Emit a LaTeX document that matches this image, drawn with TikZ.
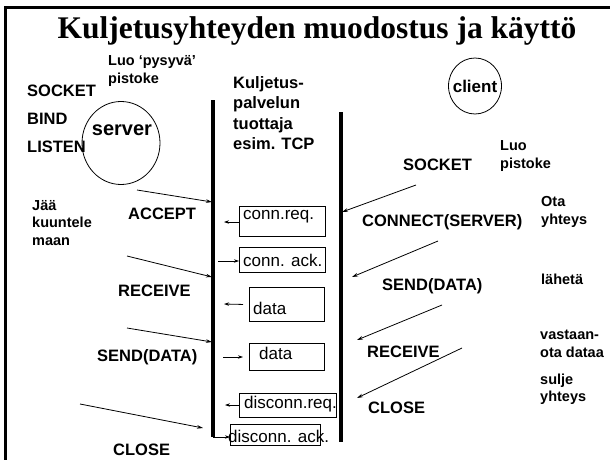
\documentclass[tikz,border=0pt]{standalone}
\usepackage{fontspec}
\setmainfont{Liberation Serif}
\newfontfamily\arialf{Liberation Sans}
\usetikzlibrary{arrows.meta,shapes.geometric}
\tikzset{
  lbl/.style={anchor=west,inner sep=0pt,font=\arialf\bfseries\fontsize{16.5}{20.5}\selectfont,align=left},
  note/.style={anchor=west,inner sep=0pt,font=\arialf\bfseries\fontsize{14.5}{17.5}\selectfont,align=left},
  boxtxt/.style={anchor=west,inner sep=0pt,font=\arialf\fontsize{17}{20}\selectfont},
  msgbox/.style={draw,line width=0.9pt,inner sep=0pt,anchor=north west},
  lifeline/.style={line width=3.4pt},
  arr/.style={line width=0.8pt,-{Stealth[length=6pt,width=3.6pt]}},
  sarr/.style={line width=0.8pt,-{Stealth[length=5pt,width=3.4pt]}},
}
\begin{document}
\begin{tikzpicture}[x=1pt,y=-1pt]
\useasboundingbox (0,0) rectangle (610,460);
% frame
\draw[line width=3pt] (5,460) -- (5,8) -- (612,8);
% title
\node[inner sep=0pt,font=\bfseries\fontsize{31.5}{35}\selectfont] (title) at (317,31) {Kuljetusyhteyden muodostus ja käyttö};
% left side texts
\node[note] (luo1) at (108,71) {Luo ‘pysyvä’\\pistoke};
\node[lbl] (sock1) at (27,91) {SOCKET};
\node[lbl] (bind) at (27,119) {BIND};
\node[lbl] (listen) at (27,147) {LISTEN};
\node[draw,ellipse,line width=0.8pt,minimum width=78pt,minimum height=83pt,inner sep=0pt] (server) at (121,143) {};
\node[inner sep=0pt,font=\arialf\bfseries\fontsize{20}{24}\selectfont] (servert) at (122,130) {server};
% middle text
\node[lbl,anchor=north west] (tcp) at (233,76) {Kuljetus-\\palvelun\\tuottaja\\esim. TCP};
% lifelines
\coordinate (l1t) at (213,100);
\coordinate (l1b) at (213,437);
\coordinate (l2t) at (341,112);
\coordinate (l2b) at (341,442);
\draw[lifeline] (l1t) -- (l1b);
\draw[lifeline] (l2t) -- (l2b);
% client
\node[draw,ellipse,line width=0.8pt,minimum width=53pt,minimum height=56pt,inner sep=0pt] (client) at (475,86) {};
\node[inner sep=0pt,font=\arialf\bfseries\fontsize{17}{20}\selectfont] (clientt) at (475,86) {client};
% right side labels
\node[lbl] (sock2) at (403,165) {SOCKET};
\node[note] (luo2) at (500,156) {Luo\\pistoke};
\node[lbl] (conn) at (362,222) {CONNECT(SERVER)};
\node[note] (ota) at (541,212) {Ota\\yhteys};
\node[lbl] (send2) at (382,286) {SEND(DATA)};
\node[note] (lah) at (541,279) {lähetä};
\node[lbl] (recv2) at (367,352) {RECEIVE};
\node[note] (vast) at (540,344) {vastaan-\\ota dataa};
\node[lbl] (close2) at (368,408) {CLOSE};
\node[note] (sulje) at (540,389) {sulje\\yhteys};
% left labels
\node[lbl] (accept) at (128,214) {ACCEPT};
\node[note] (jaa) at (32,223) {Jää\\kuuntele\\maan};
\node[lbl] (recv1) at (118,291) {RECEIVE};
\node[lbl] (send1) at (97,357) {SEND(DATA)};
\node[lbl] (close1) at (113,450) {CLOSE};
% right arrows
\coordinate (ra1) at (416,185); \coordinate (rb1) at (342,212);
\coordinate (ra2) at (438,241); \coordinate (rb2) at (352,277);
\coordinate (ra3) at (442,305); \coordinate (rb3) at (357,340);
\coordinate (ra4) at (462,348); \coordinate (rb4) at (357,398);
\draw[arr] (ra1) -- (rb1);
\draw[arr] (ra2) -- (rb2);
\draw[arr] (ra3) -- (rb3);
\draw[arr] (ra4) -- (rb4);
% left arrows
\coordinate (la1) at (137,190); \coordinate (lb1) at (212,202);
\coordinate (la2) at (127,256); \coordinate (lb2) at (212,277);
\coordinate (la3) at (127,328); \coordinate (lb3) at (212,342);
\coordinate (la4) at (80,404); \coordinate (lb4) at (203,428);
\draw[arr] (la1) -- (lb1);
\draw[arr] (la2) -- (lb2);
\draw[arr] (la3) -- (lb3);
\draw[arr] (la4) -- (lb4);
% message boxes
\node[msgbox,minimum width=86pt,minimum height=30pt] (b1) at (239,206) {};
\node[boxtxt] (b1t) at (243,217) {conn.req.};
\node[msgbox,minimum width=86pt,minimum height=25pt] (b2) at (239,247) {};
\node[boxtxt] (b2t) at (243,260) {conn. ack.};
\node[msgbox,minimum width=75pt,minimum height=34pt] (b3) at (249,287) {};
\node[boxtxt] (b3t) at (253,308) {data};
\node[msgbox,minimum width=75pt,minimum height=27pt] (b4) at (249,343) {};
\node[boxtxt] (b4t) at (259,353) {data};
\node[msgbox,minimum width=97pt,minimum height=24pt] (b5) at (239,393) {};
\node[boxtxt] (b5t) at (244,404) {disconn.req.};
\node[msgbox,minimum width=90pt,minimum height=21pt] (b6) at (230,424) {};
\node[boxtxt] (b6t) at (228,436) {disconn. ack.};
% small arrows
\coordinate (s1) at (224,222);
\coordinate (s2) at (218,261);
\coordinate (s3) at (224,304);
\coordinate (s4) at (223,357);
\coordinate (s5) at (225,405);
\draw[sarr] (b1.west |- s1) -- (s1);
\draw[sarr] (s2) -- (b2.west |- s2);
\draw[sarr] ([xshift=-6pt]b3.west) -- (s3);
\draw[sarr] (s4) -- ([xshift=-6pt]b4.west |- s4);
\draw[sarr] (b5.west |- s5) -- (s5);
\draw[sarr] (l1b) -- (b6.west |- l1b);
\end{tikzpicture}
\end{document}
